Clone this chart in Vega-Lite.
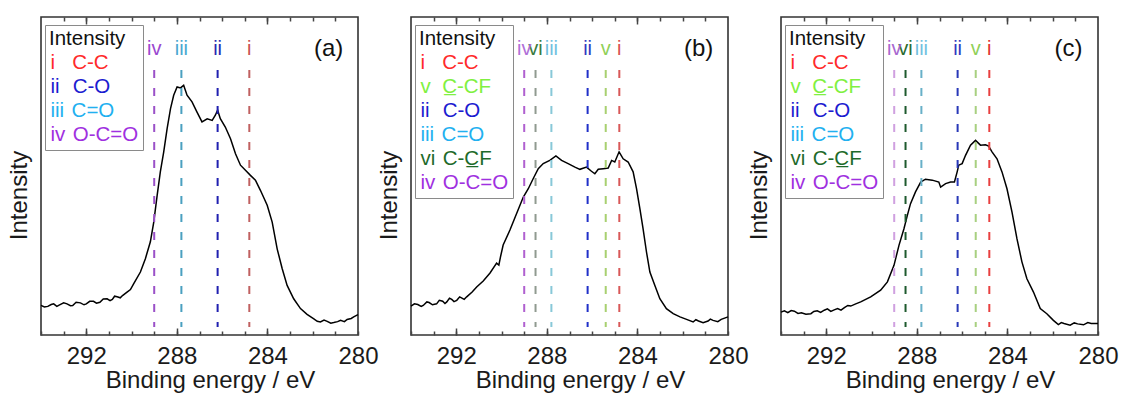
{
  "$schema": "https://vega.github.io/schema/vega-lite/v6.json",
  "padding": {"left": 6, "top": 15, "right": 0, "bottom": 0},
  "spacing": 53,
  "bounds": "flush",
  "config": {
    "font": "Liberation Sans",
    "view": {"stroke": "#333333", "strokeWidth": 1.6},
    "axis": {"grid": false, "domain": false, "ticks": true, "zindex": 1, "tickColor": "#444444", "tickWidth": 1.5, "labelColor": "#1a1a1a", "titleColor": "#1a1a1a", "titleFontWeight": "normal"},
    "legend": {
      "orient": "none", "legendX": 4, "legendY": 8,
      "titleFontSize": 20.5, "titleFontWeight": "normal", "titleColor": "#111111",
      "labelFontSize": 20.5, "symbolOpacity": 0, "symbolSize": 1, "symbolStrokeWidth": 0,
      "labelOffset": -19, "padding": 4, "rowPadding": 3, "titlePadding": 3,
      "strokeColor": "#8a8a8a", "fillColor": "white"
    }
  },
  "datasets": {
    "curveA": [
      {"ev":294.00,"v":9.3},{"ev":293.85,"v":8.8},{"ev":293.7,"v":9.0},{"ev":293.55,"v":9.6},{"ev":293.44,"v":9.8},{"ev":293.3,"v":9.0},{"ev":293.2,"v":9.4},{"ev":293.0,"v":10.1},{"ev":292.85,"v":9.8},{"ev":292.7,"v":9.2},{"ev":292.6,"v":9.3},{"ev":292.45,"v":10.3},{"ev":292.26,"v":10.1},{"ev":292.1,"v":9.5},{"ev":292.0,"v":9.8},{"ev":291.85,"v":10.6},{"ev":291.68,"v":10.6},{"ev":291.55,"v":10.0},{"ev":291.4,"v":10.3},{"ev":291.25,"v":11.3},{"ev":291.08,"v":11.4},{"ev":290.95,"v":10.8},{"ev":290.85,"v":11.2},{"ev":290.75,"v":12.2},{"ev":290.64,"v":12.0},{"ev":290.5,"v":11.7},{"ev":290.4,"v":12.4},{"ev":290.20,"v":13.5},{"ev":290.05,"v":14.3},{"ev":289.91,"v":16.1},{"ev":289.61,"v":19.8},{"ev":289.39,"v":24.0},{"ev":289.17,"v":29.3},{"ev":289.02,"v":35.5},{"ev":288.87,"v":43.9},{"ev":288.73,"v":51.3},{"ev":288.58,"v":57.6},{"ev":288.43,"v":64.9},{"ev":288.28,"v":71.2},{"ev":288.14,"v":75.4},{"ev":287.99,"v":78.0},{"ev":287.84,"v":77.7},{"ev":287.70,"v":78.5},{"ev":287.55,"v":75.4},{"ev":287.33,"v":73.3},{"ev":287.11,"v":70.1},{"ev":286.89,"v":67.0},{"ev":286.66,"v":68.0},{"ev":286.44,"v":67.5},{"ev":286.30,"v":69.1},{"ev":286.20,"v":70.7},{"ev":286.08,"v":68.0},{"ev":285.86,"v":65.4},{"ev":285.63,"v":61.7},{"ev":285.41,"v":57.0},{"ev":285.19,"v":53.4},{"ev":284.97,"v":51.8},{"ev":284.75,"v":50.2},{"ev":284.53,"v":48.7},{"ev":284.31,"v":45.5},{"ev":284.01,"v":40.8},{"ev":283.79,"v":35.5},{"ev":283.57,"v":27.1},{"ev":283.35,"v":20.9},{"ev":283.13,"v":15.6},{"ev":282.84,"v":11.4},{"ev":282.54,"v":8.3},{"ev":282.25,"v":6.5},{"ev":281.95,"v":5.1},{"ev":281.8,"v":4.3},{"ev":281.66,"v":4.1},{"ev":281.5,"v":4.7},{"ev":281.36,"v":4.3},{"ev":281.2,"v":3.7},{"ev":281.07,"v":3.9},{"ev":280.9,"v":4.2},{"ev":280.77,"v":4.6},{"ev":280.6,"v":4.2},{"ev":280.48,"v":4.9},{"ev":280.3,"v":5.2},{"ev":280.19,"v":5.7},{"ev":280.00,"v":6.4}
    ],
    "curveB": [
      {"ev":294.00,"v":9.1},{"ev":293.85,"v":9.8},{"ev":293.7,"v":9.6},{"ev":293.55,"v":9.0},{"ev":293.46,"v":9.3},{"ev":293.3,"v":10.4},{"ev":293.2,"v":10.2},{"ev":293.05,"v":9.5},{"ev":292.87,"v":9.8},{"ev":292.75,"v":10.9},{"ev":292.6,"v":10.6},{"ev":292.5,"v":9.9},{"ev":292.42,"v":10.4},{"ev":292.3,"v":11.6},{"ev":292.2,"v":11.2},{"ev":292.1,"v":10.5},{"ev":291.98,"v":10.9},{"ev":291.85,"v":12.0},{"ev":291.75,"v":11.6},{"ev":291.65,"v":11.2},{"ev":291.54,"v":12.0},{"ev":291.30,"v":13.5},{"ev":291.10,"v":15.1},{"ev":290.81,"v":17.0},{"ev":290.51,"v":19.5},{"ev":290.22,"v":22.6},{"ev":290.12,"v":22.0},{"ev":290.05,"v":24.5},{"ev":289.93,"v":28.3},{"ev":289.63,"v":33.0},{"ev":289.34,"v":38.1},{"ev":289.04,"v":43.4},{"ev":288.82,"v":46.0},{"ev":288.60,"v":49.2},{"ev":288.38,"v":52.3},{"ev":288.16,"v":53.9},{"ev":287.87,"v":54.9},{"ev":287.60,"v":56.3},{"ev":287.35,"v":54.9},{"ev":287.06,"v":53.9},{"ev":286.76,"v":52.8},{"ev":286.54,"v":52.1},{"ev":286.25,"v":52.8},{"ev":286.03,"v":51.5},{"ev":285.88,"v":50.7},{"ev":285.73,"v":52.1},{"ev":285.51,"v":52.3},{"ev":285.29,"v":52.5},{"ev":285.14,"v":54.9},{"ev":285.00,"v":54.4},{"ev":284.81,"v":57.6},{"ev":284.63,"v":55.4},{"ev":284.41,"v":54.4},{"ev":284.19,"v":51.3},{"ev":284.04,"v":46.0},{"ev":283.89,"v":39.7},{"ev":283.75,"v":33.4},{"ev":283.60,"v":26.1},{"ev":283.45,"v":19.8},{"ev":283.23,"v":15.6},{"ev":283.01,"v":11.4},{"ev":282.72,"v":8.3},{"ev":282.42,"v":6.7},{"ev":282.12,"v":5.7},{"ev":281.83,"v":4.9},{"ev":281.54,"v":4.1},{"ev":281.42,"v":4.8},{"ev":281.30,"v":4.4},{"ev":281.10,"v":3.9},{"ev":280.88,"v":4.4},{"ev":280.78,"v":5.0},{"ev":280.66,"v":4.6},{"ev":280.45,"v":4.2},{"ev":280.30,"v":4.9},{"ev":280.00,"v":5.7}
    ],
    "curveC": [
      {"ev":294.00,"v":7.2},{"ev":293.85,"v":7.6},{"ev":293.7,"v":7.0},{"ev":293.55,"v":7.7},{"ev":293.41,"v":7.5},{"ev":293.25,"v":6.8},{"ev":293.1,"v":7.0},{"ev":292.9,"v":6.5},{"ev":292.68,"v":6.7},{"ev":292.55,"v":7.4},{"ev":292.4,"v":7.6},{"ev":292.25,"v":7.1},{"ev":292.09,"v":7.8},{"ev":291.95,"v":8.2},{"ev":291.8,"v":7.4},{"ev":291.65,"v":7.9},{"ev":291.50,"v":8.3},{"ev":291.35,"v":7.8},{"ev":291.2,"v":8.6},{"ev":291.05,"v":9.3},{"ev":290.92,"v":9.1},{"ev":290.70,"v":9.8},{"ev":290.48,"v":10.4},{"ev":290.04,"v":12.0},{"ev":289.60,"v":14.1},{"ev":289.30,"v":16.7},{"ev":289.01,"v":21.9},{"ev":288.79,"v":28.2},{"ev":288.57,"v":33.4},{"ev":288.42,"v":37.6},{"ev":288.28,"v":41.3},{"ev":288.06,"v":45.0},{"ev":287.83,"v":48.1},{"ev":287.62,"v":49.0},{"ev":287.32,"v":48.7},{"ev":287.03,"v":48.1},{"ev":286.95,"v":46.5},{"ev":286.73,"v":47.6},{"ev":286.51,"v":48.1},{"ev":286.34,"v":48.1},{"ev":286.22,"v":51.3},{"ev":286.15,"v":53.4},{"ev":286.00,"v":53.9},{"ev":285.85,"v":56.5},{"ev":285.63,"v":59.7},{"ev":285.41,"v":61.2},{"ev":285.19,"v":59.7},{"ev":284.97,"v":59.8},{"ev":284.83,"v":59.4},{"ev":284.68,"v":57.6},{"ev":284.46,"v":55.4},{"ev":284.24,"v":51.3},{"ev":284.02,"v":46.0},{"ev":283.80,"v":38.7},{"ev":283.58,"v":30.3},{"ev":283.36,"v":23.0},{"ev":283.14,"v":17.7},{"ev":282.85,"v":13.5},{"ev":282.55,"v":8.3},{"ev":282.26,"v":6.7},{"ev":281.97,"v":4.6},{"ev":281.75,"v":3.3},{"ev":281.62,"v":3.9},{"ev":281.50,"v":3.6},{"ev":281.23,"v":3.1},{"ev":281.05,"v":3.8},{"ev":280.90,"v":3.5},{"ev":280.64,"v":3.2},{"ev":280.45,"v":3.9},{"ev":280.30,"v":3.6},{"ev":280.00,"v":3.6}
    ],
    "peaksA": [
      {"ev":284.8,"num":"i","entry":"i\u00a0\u00a0\u00a0C-C"},
      {"ev":286.2,"num":"ii","entry":"ii\u00a0\u00a0\u200aC-O"},
      {"ev":287.8,"num":"iii","entry":"iii\u00a0\u200aC=O"},
      {"ev":289.0,"num":"iv","entry":"iv\u00a0\u200aO-C=O"}
    ],
    "peaksBC": [
      {"ev":284.8,"num":"i","entry":"i\u00a0\u00a0\u00a0C-C"},
      {"ev":285.4,"num":"v","entry":"v\u00a0\u00a0C\u0332-CF"},
      {"ev":286.2,"num":"ii","entry":"ii\u00a0\u00a0\u200aC-O"},
      {"ev":287.8,"num":"iii","entry":"iii\u00a0\u200aC=O"},
      {"ev":288.5,"num":"vi","entry":"vi\u00a0\u200aC-C\u0332F"},
      {"ev":289.0,"num":"iv","entry":"iv\u00a0\u200aO-C=O"}
    ]
  },
  "hconcat": [
    {
      "width": 317, "height": 318,
      "resolve": {"axis": {"x": "independent", "y": "independent"}},
      "layer": [
        {
          "data": {"name": "curveA"},
          "mark": {"type": "line", "color": "#000000", "strokeWidth": 1.5},
          "encoding": {
            "x": {"field": "ev", "type": "quantitative", "scale": {"domain": [280, 294], "reverse": true, "nice": false, "zero": false},
              "axis": {"orient": "bottom", "offset": -4, "values": [280,281,282,283,284,285,286,287,288,289,290,291,292,293,294], "labelExpr": "datum.value % 4 === 0 ? datum.label : ''", "labelOverlap": false, "labelFlush": false, "tickSize": 4, "labelPadding": 9, "labelFontSize": 24, "title": "Binding energy / eV", "titleFontSize": 24, "titlePadding": 0, "titleX": 169}},
            "y": {"field": "v", "type": "quantitative", "scale": {"domain": [0, 100], "nice": false, "zero": false},
              "axis": {"orient": "left", "title": "Intensity", "labels": false, "ticks": false, "domain": false, "titleFontSize": 24, "titlePadding": 10, "titleY": 178}}
          }
        },
        {
          "data": {"name": "peaksA"},
          "mark": {"type": "rule", "strokeDash": [8, 10], "strokeWidth": 2},
          "encoding": {
            "x": {"field": "ev", "type": "quantitative", "axis": {"orient": "top", "offset": -4, "values": [281,282,283,284,285,286,287,288,289,290,291,292,293], "labels": false, "tickSize": 4, "title": null}},
            "y": {"datum": 83.3, "type": "quantitative", "axis": null},
            "y2": {"datum": 2.5},
            "stroke": {"field": "num", "type": "nominal", "sort": null, "legend": null, "scale": {"range": ["#c06060", "#2020b0", "#4aa0c0", "#9a50c8"]}}
          }
        },
        {
          "data": {"name": "peaksA"},
          "mark": {"type": "text", "fontSize": 20, "baseline": "middle", "align": "center"},
          "encoding": {
            "x": {"field": "ev", "type": "quantitative", "axis": {"orient": "bottom", "offset": -7, "values": [284, 288, 292], "labels": false, "tickSize": 7, "title": null}},
            "y": {"datum": 90, "type": "quantitative", "axis": null},
            "text": {"field": "num"},
            "fill": {"field": "entry", "type": "nominal", "sort": null, "scale": {"range": ["#c85050", "#2828b0", "#48a8d0", "#9a48d0"]},
              "legend": {"title": "Intensity", "encode": {"labels": {"update": {"fill": {"signal": "slice(datum.value,0,indexof(datum.value,'\u00a0'))=='i' ? '#ff2a2a' : slice(datum.value,0,indexof(datum.value,'\u00a0'))=='ii' ? '#1c1cd0' : slice(datum.value,0,indexof(datum.value,'\u00a0'))=='iii' ? '#22b0f0' : slice(datum.value,0,indexof(datum.value,'\u00a0'))=='iv' ? '#a030e0' : slice(datum.value,0,indexof(datum.value,'\u00a0'))=='v' ? '#80f040' : '#1e6a2a'"}}}}}}
          }
        },
        {
          "data": {"values": [{"panel": "(a)"}]},
          "mark": {"type": "text", "fontSize": 24, "baseline": "middle", "align": "center", "color": "#111111"},
          "encoding": {
            "x": {"datum": 281.3, "type": "quantitative", "axis": {"orient": "top", "offset": -7, "values": [284, 288, 292], "labels": false, "tickSize": 7, "title": null}},
            "y": {"datum": 90, "type": "quantitative", "axis": null},
            "text": {"field": "panel"}
          }
        }
      ]
    },
    {
      "width": 317, "height": 318,
      "resolve": {"axis": {"x": "independent", "y": "independent"}},
      "layer": [
        {
          "data": {"name": "curveB"},
          "mark": {"type": "line", "color": "#000000", "strokeWidth": 1.5},
          "encoding": {
            "x": {"field": "ev", "type": "quantitative", "scale": {"domain": [280, 294], "reverse": true, "nice": false, "zero": false},
              "axis": {"orient": "bottom", "offset": -4, "values": [280,281,282,283,284,285,286,287,288,289,290,291,292,293,294], "labelExpr": "datum.value % 4 === 0 ? datum.label : ''", "labelOverlap": false, "labelFlush": false, "tickSize": 4, "labelPadding": 9, "labelFontSize": 24, "title": "Binding energy / eV", "titleFontSize": 24, "titlePadding": 0, "titleX": 169}},
            "y": {"field": "v", "type": "quantitative", "scale": {"domain": [0, 100], "nice": false, "zero": false},
              "axis": {"orient": "left", "title": "Intensity", "labels": false, "ticks": false, "domain": false, "titleFontSize": 24, "titlePadding": 10, "titleY": 178}}
          }
        },
        {
          "data": {"name": "peaksBC"},
          "mark": {"type": "rule", "strokeDash": [8, 10], "strokeWidth": 2},
          "encoding": {
            "x": {"field": "ev", "type": "quantitative", "axis": {"orient": "top", "offset": -4, "values": [281,282,283,284,285,286,287,288,289,290,291,292,293], "labels": false, "tickSize": 4, "title": null}},
            "y": {"datum": 83.3, "type": "quantitative", "axis": null},
            "y2": {"datum": 2.5},
            "stroke": {"field": "num", "type": "nominal", "sort": null, "legend": null, "scale": {"range": ["#d85858", "#a8d070", "#2030c8", "#88c8d8", "#909a90", "#b060d0"]}}
          }
        },
        {
          "data": {"name": "peaksBC"},
          "mark": {"type": "text", "fontSize": 20, "baseline": "middle", "align": "center"},
          "encoding": {
            "x": {"field": "ev", "type": "quantitative", "axis": {"orient": "bottom", "offset": -7, "values": [284, 288, 292], "labels": false, "tickSize": 7, "title": null}},
            "y": {"datum": 90, "type": "quantitative", "axis": null},
            "text": {"field": "num"},
            "fill": {"field": "entry", "type": "nominal", "sort": null, "scale": {"range": ["#d85050", "#90d058", "#3038c0", "#70c0e0", "#3a7a40", "#b070d8"]},
              "legend": {"title": "Intensity", "encode": {"labels": {"update": {"fill": {"signal": "slice(datum.value,0,indexof(datum.value,'\u00a0'))=='i' ? '#ff2a2a' : slice(datum.value,0,indexof(datum.value,'\u00a0'))=='ii' ? '#1c1cd0' : slice(datum.value,0,indexof(datum.value,'\u00a0'))=='iii' ? '#22b0f0' : slice(datum.value,0,indexof(datum.value,'\u00a0'))=='iv' ? '#a030e0' : slice(datum.value,0,indexof(datum.value,'\u00a0'))=='v' ? '#80f040' : '#1e6a2a'"}}}}}}
          }
        },
        {
          "data": {"values": [{"panel": "(b)"}]},
          "mark": {"type": "text", "fontSize": 24, "baseline": "middle", "align": "center", "color": "#111111"},
          "encoding": {
            "x": {"datum": 281.3, "type": "quantitative", "axis": {"orient": "top", "offset": -7, "values": [284, 288, 292], "labels": false, "tickSize": 7, "title": null}},
            "y": {"datum": 90, "type": "quantitative", "axis": null},
            "text": {"field": "panel"}
          }
        }
      ]
    },
    {
      "width": 317, "height": 318,
      "resolve": {"axis": {"x": "independent", "y": "independent"}},
      "layer": [
        {
          "data": {"name": "curveC"},
          "mark": {"type": "line", "color": "#000000", "strokeWidth": 1.5},
          "encoding": {
            "x": {"field": "ev", "type": "quantitative", "scale": {"domain": [280, 294], "reverse": true, "nice": false, "zero": false},
              "axis": {"orient": "bottom", "offset": -4, "values": [280,281,282,283,284,285,286,287,288,289,290,291,292,293,294], "labelExpr": "datum.value % 4 === 0 ? datum.label : ''", "labelOverlap": false, "labelFlush": false, "tickSize": 4, "labelPadding": 9, "labelFontSize": 24, "title": "Binding energy / eV", "titleFontSize": 24, "titlePadding": 0, "titleX": 169}},
            "y": {"field": "v", "type": "quantitative", "scale": {"domain": [0, 100], "nice": false, "zero": false},
              "axis": {"orient": "left", "title": "Intensity", "labels": false, "ticks": false, "domain": false, "titleFontSize": 24, "titlePadding": 10, "titleY": 178}}
          }
        },
        {
          "data": {"name": "peaksBC"},
          "mark": {"type": "rule", "strokeDash": [8, 10], "strokeWidth": 2},
          "encoding": {
            "x": {"field": "ev", "type": "quantitative", "axis": {"orient": "top", "offset": -4, "values": [281,282,283,284,285,286,287,288,289,290,291,292,293], "labels": false, "tickSize": 4, "title": null}},
            "y": {"datum": 83.3, "type": "quantitative", "axis": null},
            "y2": {"datum": 2.5},
            "stroke": {"field": "num", "type": "nominal", "sort": null, "legend": null, "scale": {"range": ["#e84040", "#a8d080", "#2838b8", "#68b0c8", "#1e5a2e", "#d0a0e0"]}}
          }
        },
        {
          "data": {"name": "peaksBC"},
          "mark": {"type": "text", "fontSize": 20, "baseline": "middle", "align": "center"},
          "encoding": {
            "x": {"field": "ev", "type": "quantitative", "axis": {"orient": "bottom", "offset": -7, "values": [284, 288, 292], "labels": false, "tickSize": 7, "title": null}},
            "y": {"datum": 90, "type": "quantitative", "axis": null},
            "text": {"field": "num"},
            "fill": {"field": "entry", "type": "nominal", "sort": null, "scale": {"range": ["#e03030", "#90d058", "#3038c0", "#70c0e0", "#2a6a30", "#a868d0"]},
              "legend": {"title": "Intensity", "encode": {"labels": {"update": {"fill": {"signal": "slice(datum.value,0,indexof(datum.value,'\u00a0'))=='i' ? '#ff2a2a' : slice(datum.value,0,indexof(datum.value,'\u00a0'))=='ii' ? '#1c1cd0' : slice(datum.value,0,indexof(datum.value,'\u00a0'))=='iii' ? '#22b0f0' : slice(datum.value,0,indexof(datum.value,'\u00a0'))=='iv' ? '#a030e0' : slice(datum.value,0,indexof(datum.value,'\u00a0'))=='v' ? '#80f040' : '#1e6a2a'"}}}}}}
          }
        },
        {
          "data": {"values": [{"panel": "(c)"}]},
          "mark": {"type": "text", "fontSize": 24, "baseline": "middle", "align": "center", "color": "#111111"},
          "encoding": {
            "x": {"datum": 281.3, "type": "quantitative", "axis": {"orient": "top", "offset": -7, "values": [284, 288, 292], "labels": false, "tickSize": 7, "title": null}},
            "y": {"datum": 90, "type": "quantitative", "axis": null},
            "text": {"field": "panel"}
          }
        }
      ]
    }
  ],
  "resolve": {"scale": {"x": "independent", "y": "independent", "fill": "independent", "stroke": "independent"}, "legend": {"fill": "independent"}}
}
